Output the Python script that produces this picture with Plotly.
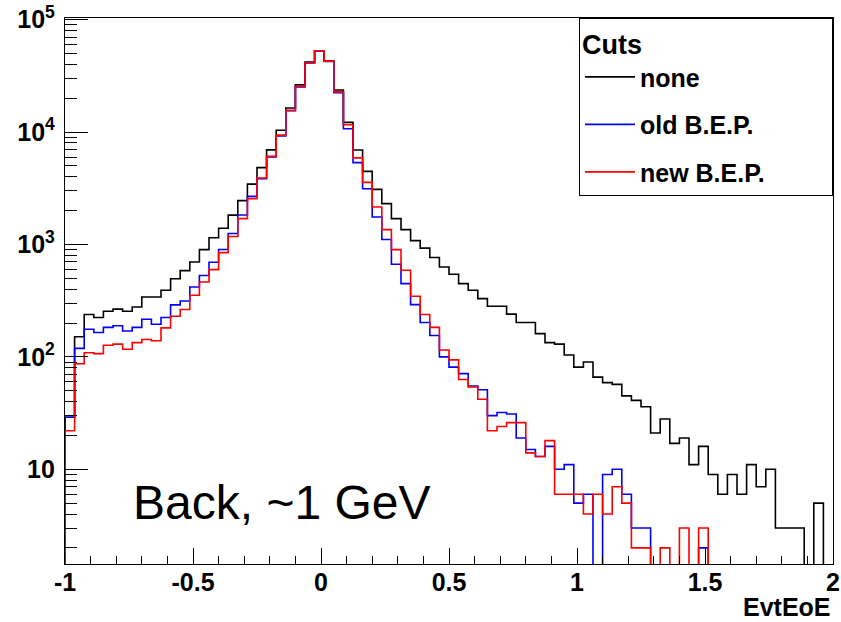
import numpy as np
import plotly.graph_objects as go

# Histogram definition: 80 bins from -1 to 2
x_min, x_max, n_bins = -1.0, 2.0, 80

# Bin contents (counts)
none_cut = [29, 151, 238, 224, 255, 266, 255, 278, 341, 341,
            392, 496, 586, 698, 901, 1147, 1394, 1825, 2456, 3443,
            4827, 6950, 10400, 16400, 26300, 42100, 52900, 42900, 23700, 12200,
            6920, 4475, 3096, 2312, 1699, 1356, 1083, 929, 765, 631,
            543, 449, 392, 330, 282, 282, 240, 202, 202, 161,
            134, 130, 104, 81, 90, 66, 59, 57, 45, 41,
            36, 21, 28, 17, 19, 11, 16, 9, 6, 9,
            6, 11, 7, 10, 3, 3, 3, 0, 5, 0]

old_bep = [29, 119, 176, 165, 183, 189, 170, 183, 216, 195,
           224, 290, 314, 419, 530, 695, 903, 1253, 1829, 2682,
           3850, 6000, 9250, 15500, 25200, 41200, 52800, 42600, 22400, 10700,
           5350, 3130, 1756, 1106, 667, 449, 292, 202, 155, 100,
           81, 71, 55, 51, 30, 32, 31, 19, 15, 13,
           16, 10, 11, 5, 6, 0, 9, 10, 6, 3,
           3, 0, 0, 0, 0, 0, 2, 0, 0, 0,
           0, 0, 0, 0, 0, 0, 0, 0, 0, 0]

new_bep = [22, 87, 109, 107, 127, 130, 117, 134, 143, 139,
           181, 230, 264, 353, 464, 598, 847, 1178, 1699, 2559,
           3900, 6080, 9400, 15600, 25500, 41400, 53000, 42800, 22800, 11640,
           5900, 3573, 2155, 1356, 901, 590, 346, 238, 183, 115,
           94, 63, 54, 42, 22, 24, 26, 26, 14, 13,
           18, 6, 6, 6, 4, 6, 4, 7, 5, 2,
           2, 0, 2, 0, 3, 0, 3, 0, 0, 0,
           0, 0, 0, 0, 0, 0, 0, 0, 0, 0]

series_names = ["none", "old B.E.P.", "new B.E.P."]
series_colors = ["#000000", "#0000ff", "#ff0000"]
legend_title = "Cuts"

x_tickvals = [-1, -0.5, 0, 0.5, 1, 1.5, 2]
x_ticktext = ["-1", "-0.5", "0", "0.5", "1", "1.5", "2"]
y_tickvals = [10, 100, 1000, 10000, 100000]
y_ticktext = ["10", "10<sup>2</sup>", "10<sup>3</sup>", "10<sup>4</sup>", "10<sup>5</sup>"]

edges = np.linspace(x_min, x_max, n_bins + 1)
FLOOR = 1e-3  # empty bins drop below the log axis (clipped)


def step_xy(vals):
    v = [c if c > 0 else FLOOR for c in vals]
    xs = [edges[0]] + list(edges[:-1]) + [edges[-1], edges[-1]]
    ys = [FLOOR] + v + [v[-1], FLOOR]
    return xs, ys


fig = go.Figure()
for i, (name, vals, col) in enumerate(zip(series_names, [none_cut, old_bep, new_bep], series_colors)):
    xs, ys = step_xy(vals)
    fig.add_trace(go.Scatter(
        x=xs, y=ys, mode="lines", name=name,
        line=dict(color=col, width=1.6, shape="hv"),
        legendgroup=f"g{i}",
    ))

FAM = "Liberation Sans, Arial, sans-serif"
bold = dict(family=FAM, size=25, color="black", weight="bold")

# invisible padding so the legend box spans the same width as the reference
title_text = legend_title + "&nbsp;" * 25

fig.update_layout(
    width=841, height=622,
    margin=dict(l=65, r=8, t=17.5, b=58),
    paper_bgcolor="white", plot_bgcolor="white",
    showlegend=True,
    legend=dict(
        title=dict(text=title_text, font=dict(family=FAM, size=27, weight="bold", color="black")),
        font=dict(family=FAM, size=25, weight="bold", color="black"),
        x=1, y=1, xanchor="right", yanchor="top",
        bgcolor="white", bordercolor="black", borderwidth=1,
        tracegroupgap=12, itemwidth=50,
        traceorder="grouped",
    ),
    xaxis=dict(
        range=[x_min, x_max], automargin=False,
        tickmode="array", tickvals=x_tickvals, ticktext=x_ticktext,
        ticks="inside", ticklen=16, tickwidth=1, tickcolor="black",
        minor=dict(ticks="inside", ticklen=8, dtick=0.1, tick0=0, tickcolor="black", showgrid=False),
        showline=True, linecolor="black", linewidth=1.3, mirror=True,
        showgrid=False, zeroline=False,
        tickfont=bold, ticklabelstandoff=-4,
    ),
    yaxis=dict(
        type="log", automargin=False,
        range=[0.1573, 5.0151],
        tickmode="array", tickvals=y_tickvals, ticktext=y_ticktext,
        ticks="inside", ticklen=23, tickwidth=1, tickcolor="black",
        minor=dict(ticks="inside", ticklen=12, dtick="D1", tickcolor="black", showgrid=False),
        showline=True, linecolor="black", linewidth=1.3, mirror=True,
        showgrid=False, zeroline=False,
        tickfont=bold, ticklabelstandoff=4,
    ),
    annotations=[
        dict(text="EvtEoE", xref="paper", yref="paper", x=1, y=-0.079,
             xanchor="right", yanchor="middle", showarrow=False, font=bold),
        dict(text="Back, ~1 GeV", xref="paper", yref="paper", x=0.086, y=0.1135,
             xanchor="left", yanchor="middle", showarrow=False,
             font=dict(family=FAM, size=48, color="black")),
    ],
)

fig.write_html("out.html")
